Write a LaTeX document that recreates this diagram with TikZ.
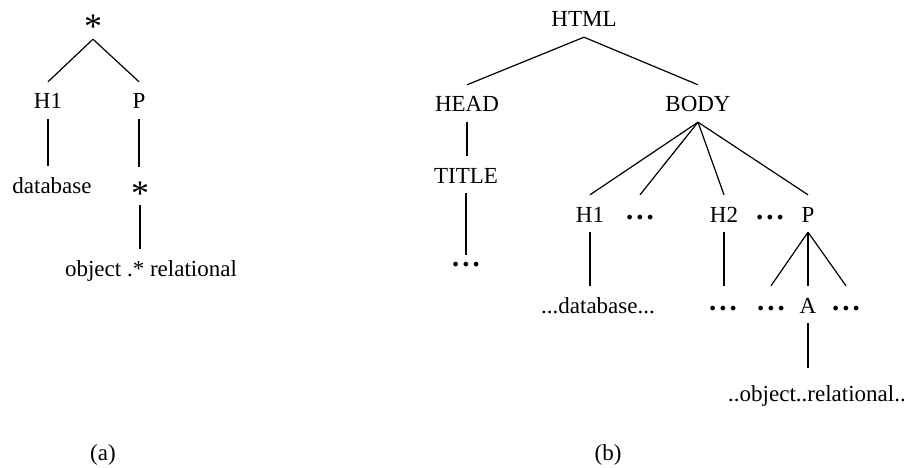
\documentclass[tikz,border=0pt]{standalone}
\usepackage{fontspec}
\setmainfont{Liberation Serif}
\newcommand\dts{\raisebox{3pt}{\fontsize{29}{29}\selectfont\bfseries .\kern3pt.\kern3pt.}}
\begin{document}
\begin{tikzpicture}[x=1pt,y=-1pt,
  lbl/.style={inner sep=0pt, anchor=base, text height=27pt, text depth=10pt, font=\fontsize{23}{27}\selectfont},
  dotlbl/.style={lbl, text height=14pt},
  ast/.style={inner sep=0pt, anchor=base, text height=38pt, text depth=0pt, font=\fontsize{36}{36}\selectfont},
  edge/.style={draw, line width=1.2pt}]
\useasboundingbox (0,0) rectangle (912,468);
% tree (a)
\node[ast] (sa) at (93,39) {*};
\node[lbl] (ha1) at (48,109) {H1};
\node[lbl] (pa) at (139,109) {P};
\node[lbl] (db) at (52,193) {database};
\node[ast] (sa2) at (140,205) {*};
\node[lbl] (orl) at (151,276) {object .* relational};
\draw[edge] (sa.south) -- (ha1.north);
\draw[edge] (sa.south) -- (pa.north);
\draw[edge] (ha1.south) -- (ha1.south |- db.north);
\draw[edge] (pa.south) -- (pa.south |- sa2.north);
\draw[edge] (sa2.south) -- (sa2.south |- orl.north);
% tree (b)
\node[lbl] (html) at (584,27) {HTML};
\node[lbl] (head) at (467,112) {HEAD};
\node[lbl] (body) at (698,112) {BODY};
\node[lbl] (title) at (466,183) {TITLE};
\node[dotlbl] (dT) at (466,269) {\dts};
\node[lbl] (h1b) at (590,222) {H1};
\node[lbl] (d1) at (640,222) {\dts};
\node[lbl] (h2) at (724,222) {H2};
\node[lbl] (d2) at (770,222) {\dts};
\node[lbl] (pb) at (808,222) {P};
\node[lbl] (dbb) at (598,313) {...database...};
\node[lbl] (d3) at (723,313) {\dts};
\node[lbl] (d4) at (771,313) {\dts};
\node[lbl] (ab) at (808,313) {A};
\node[lbl] (d5) at (846,313) {\dts};
\node[lbl, text height=33pt] (obj) at (817,401) {..object..relational..};
\draw[edge] (html.south) -- (head.north);
\draw[edge] (html.south) -- (body.north);
\draw[edge] (head.south) -- (head.south |- title.north);
\draw[edge] (title.south) -- (title.south |- dT.north);
\foreach \n in {h1b,d1,h2,pb} \draw[edge] (body.south) -- (\n.north);
\draw[edge] (h1b.south) -- (h1b.south |- dbb.north);
\draw[edge] (h2.south) -- (h2.south |- d3.north);
\foreach \n in {d4,ab,d5} \draw[edge] (pb.south) -- (\n.north);
\draw[edge] (ab.south) -- (ab.south |- obj.north);
% captions
\node[lbl] (ca) at (103,460) {(a)};
\node[lbl] (cb) at (608,460) {(b)};
\end{tikzpicture}
\end{document}
